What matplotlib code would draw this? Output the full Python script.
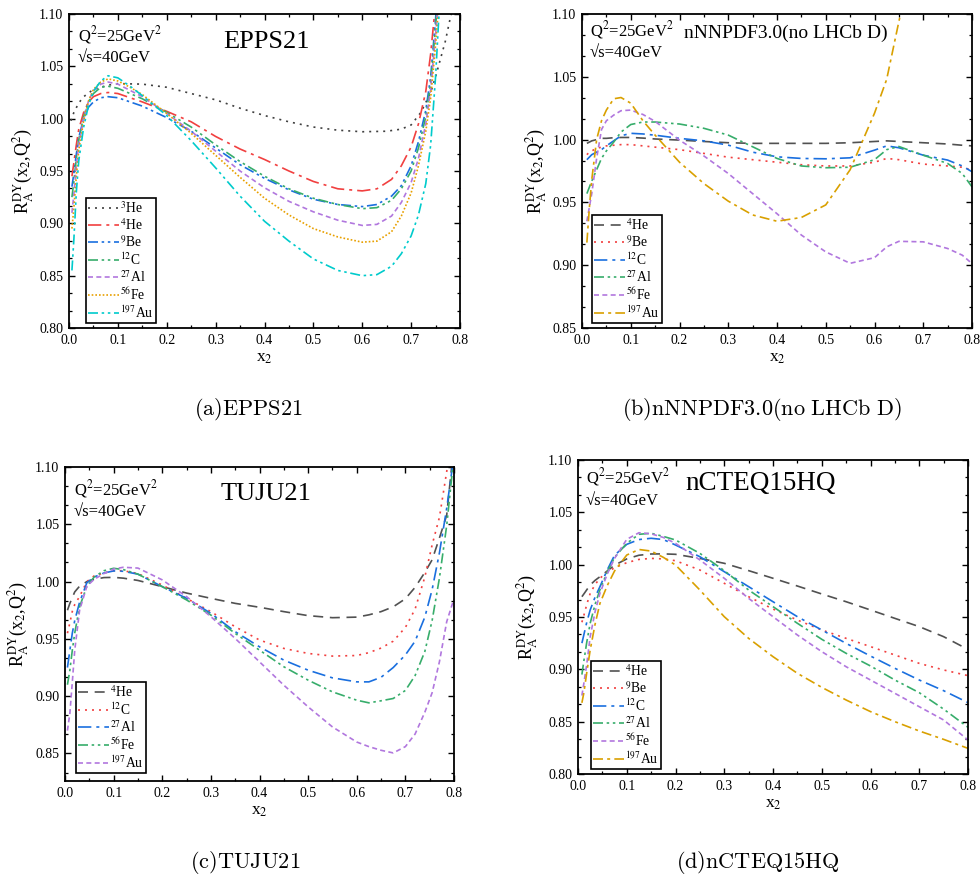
import matplotlib
matplotlib.use('Agg')
import matplotlib.pyplot as plt
from matplotlib.ticker import MultipleLocator, AutoMinorLocator, FormatStrFormatter

plt.rcParams['font.family'] = ['Liberation Serif', 'DejaVu Serif']
plt.rcParams['mathtext.fontset'] = 'stix'

# ---------------- data: panel (a) EPPS21 ----------------
xa_3he = [0.004, 0.01, 0.02, 0.03, 0.05, 0.08, 0.1, 0.15, 0.2, 0.25, 0.3, 0.35, 0.4, 0.45,
          0.5, 0.55, 0.6, 0.65, 0.68, 0.7, 0.72, 0.74, 0.75, 0.76, 0.77, 0.78, 0.79]
ya_3he = [0.998, 1.006, 1.015, 1.021, 1.028, 1.032, 1.0335, 1.033, 1.030, 1.024, 1.018, 1.010,
          1.003, 0.997, 0.992, 0.989, 0.9875, 0.988, 0.990, 0.994, 1.006, 1.025, 1.040, 1.057,
          1.074, 1.096, 1.115]
xa = [0.006, 0.01, 0.015, 0.02, 0.03, 0.04, 0.05, 0.065, 0.08, 0.1, 0.125, 0.15, 0.2, 0.25,
      0.3, 0.35, 0.4, 0.45, 0.5, 0.55, 0.6, 0.63, 0.66, 0.68, 0.7, 0.715, 0.73, 0.74, 0.75, 0.76]
ya_4he = [0.945, 0.958, 0.975, 0.990, 1.006, 1.016, 1.021, 1.024, 1.025, 1.024, 1.020, 1.016,
          1.007, 0.997, 0.983, 0.971, 0.961, 0.950, 0.940, 0.933, 0.931, 0.933, 0.942, 0.955,
          0.973, 0.995, 1.026, 1.062, 1.110, 1.170]
ya_9be = [0.935, 0.948, 0.966, 0.982, 1.000, 1.011, 1.016, 1.020, 1.021, 1.020, 1.016, 1.012,
          1.001, 0.988, 0.972, 0.956, 0.943, 0.932, 0.923, 0.918, 0.916, 0.918, 0.926, 0.936,
          0.955, 0.978, 1.008, 1.040, 1.095, 1.160]
ya_12c = [0.925, 0.940, 0.962, 0.980, 1.002, 1.016, 1.024, 1.030, 1.031, 1.029, 1.024, 1.019,
          1.006, 0.992, 0.975, 0.959, 0.945, 0.933, 0.924, 0.918, 0.914, 0.915, 0.922, 0.933,
          0.950, 0.972, 1.002, 1.034, 1.088, 1.150]
ya_27al = [0.910, 0.928, 0.955, 0.975, 1.000, 1.017, 1.027, 1.033, 1.035, 1.033, 1.027, 1.021,
           1.005, 0.988, 0.969, 0.950, 0.934, 0.921, 0.911, 0.903, 0.898, 0.899, 0.907, 0.920,
           0.939, 0.962, 0.995, 1.028, 1.080, 1.140]
ya_56fe = [0.895, 0.915, 0.945, 0.970, 0.998, 1.017, 1.028, 1.035, 1.038, 1.036, 1.030, 1.023,
           1.005, 0.986, 0.965, 0.944, 0.924, 0.908, 0.895, 0.887, 0.882, 0.883, 0.892, 0.907,
           0.929, 0.955, 0.988, 1.020, 1.070, 1.130]
ya_197au = [0.855, 0.885, 0.930, 0.960, 0.992, 1.013, 1.026, 1.036, 1.041, 1.039, 1.031, 1.022,
            1.003, 0.979, 0.953, 0.926, 0.902, 0.883, 0.866, 0.855, 0.850, 0.851, 0.859, 0.871,
            0.888, 0.908, 0.938, 0.975, 1.040, 1.125]

# ---------------- data: panel (b) nNNPDF3.0 ----------------
xb = [0.01, 0.015, 0.02, 0.03, 0.04, 0.05, 0.065, 0.08, 0.1, 0.125, 0.15, 0.2, 0.25, 0.3,
      0.35, 0.4, 0.45, 0.5, 0.55, 0.6, 0.625, 0.65, 0.7, 0.75, 0.78, 0.8]
yb_4he = [0.997, 0.998, 0.999, 1.000, 1.001, 1.001, 1.0015, 1.0017, 1.0017, 1.0012, 1.0005,
          0.9996, 0.9985, 0.9975, 0.997, 0.997, 0.997, 0.997, 0.9975, 0.9985, 0.999, 0.9985,
          0.9975, 0.9965, 0.9955, 0.995]
yb_9be = [0.988, 0.990, 0.991, 0.993, 0.994, 0.995, 0.9955, 0.996, 0.996, 0.995, 0.994, 0.992,
          0.989, 0.986, 0.984, 0.982, 0.980, 0.979, 0.979, 0.982, 0.985, 0.984, 0.9805, 0.979,
          0.978, 0.9757]
yb_12c = [0.984, 0.986, 0.988, 0.990, 0.992, 0.995, 0.999, 1.003, 1.005, 1.0045, 1.0035, 1.001,
          0.999, 0.9956, 0.990, 0.9863, 0.985, 0.9847, 0.9855, 0.9916, 0.995, 0.9935, 0.9876,
          0.9837, 0.979, 0.9744]
yb_27al = [0.957, 0.962, 0.967, 0.976, 0.985, 0.991, 0.998, 1.006, 1.012, 1.014, 1.014, 1.0124,
           1.009, 1.0036, 0.9943, 0.985, 0.979, 0.9776, 0.978, 0.984, 0.992, 0.9945, 0.9876,
           0.981, 0.973, 0.9624]
yb_56fe = [0.935, 0.946, 0.957, 0.985, 1.008, 1.015, 1.0195, 1.023, 1.0235, 1.020, 1.0145,
           0.9996, 0.987, 0.973, 0.957, 0.941, 0.924, 0.9106, 0.9015, 0.906, 0.9146, 0.919,
           0.9186, 0.9133, 0.908, 0.9013]
yb_197au = [0.918, 0.945, 0.968, 1.000, 1.015, 1.0235, 1.0325, 1.0335, 1.029, 1.015, 1.0035,
            0.982, 0.965, 0.951, 0.940, 0.935, 0.938, 0.948, 0.976, 1.021, 1.048, 1.094,
            1.180, 1.250, 1.300, 1.330]

# ---------------- data: panel (c) TUJU21 ----------------
xc = [0.005, 0.01, 0.015, 0.02, 0.03, 0.045, 0.06, 0.08, 0.1, 0.12, 0.15, 0.2, 0.25, 0.3,
      0.35, 0.4, 0.45, 0.5, 0.55, 0.6, 0.625, 0.65, 0.675, 0.7, 0.72, 0.74, 0.755, 0.77,
      0.785, 0.8]
yc_4he = [0.975, 0.981, 0.986, 0.991, 0.996, 1.000, 1.002, 1.0035, 1.0037, 1.003, 1.001,
          0.9956, 0.990, 0.9854, 0.981, 0.9776, 0.9738, 0.9703, 0.9685, 0.969, 0.971, 0.9738,
          0.978, 0.985, 0.995, 1.008, 1.019, 1.038, 1.058, 1.120]
yc_12c = [0.955, 0.964, 0.974, 0.980, 0.987, 1.000, 1.005, 1.0075, 1.0095, 1.0095, 1.007,
          0.997, 0.9854, 0.9738, 0.9606, 0.949, 0.9417, 0.9373, 0.935, 0.9355, 0.938, 0.942,
          0.948, 0.960, 0.976, 1.004, 1.032, 1.056, 1.096, 1.140]
yc_27al = [0.925, 0.940, 0.955, 0.966, 0.982, 0.999, 1.004, 1.0075, 1.0093, 1.009, 1.0065,
           0.9956, 0.9854, 0.9723, 0.9563, 0.9431, 0.9315, 0.9227, 0.916, 0.9125, 0.9125,
           0.9165, 0.925, 0.936, 0.948, 0.969, 0.993, 1.025, 1.064, 1.110]
yc_56fe = [0.910, 0.9227, 0.940, 0.955, 0.978, 0.996, 1.004, 1.0095, 1.0116, 1.0105, 1.0065,
           0.9956, 0.984, 0.9708, 0.9548, 0.9402, 0.9257, 0.914, 0.9038, 0.8965, 0.8942, 0.896,
           0.898, 0.905, 0.918, 0.939, 0.966, 1.003, 1.049, 1.110]
yc_197au = [0.870, 0.885, 0.912, 0.940, 0.975, 0.996, 1.002, 1.007, 1.011, 1.0125, 1.0118,
            1.0015, 0.9869, 0.9694, 0.9504, 0.930, 0.9096, 0.8907, 0.8732, 0.860, 0.856,
            0.8528, 0.8505, 0.856, 0.867, 0.886, 0.903, 0.930, 0.965, 0.985]

# ---------------- data: panel (d) nCTEQ15HQ ----------------
xd = [0.008, 0.012, 0.018, 0.025, 0.035, 0.045, 0.06, 0.075, 0.1, 0.125, 0.15, 0.175, 0.2,
      0.25, 0.3, 0.35, 0.4, 0.45, 0.5, 0.55, 0.6, 0.65, 0.7, 0.75, 0.8]
yd_4he = [0.9694, 0.972, 0.976, 0.9806, 0.985, 0.9885, 0.994, 0.9995, 1.0055, 1.009, 1.0102,
          1.0103, 1.0099, 1.006, 1.0013, 0.9943, 0.987, 0.9796, 0.972, 0.9646, 0.9567, 0.9487,
          0.9408, 0.9312, 0.919]
yd_9be = [0.945, 0.9515, 0.962, 0.9726, 0.981, 0.987, 0.993, 0.997, 1.0019, 1.005, 1.006,
          1.0055, 1.0038, 0.9949, 0.9822, 0.9694, 0.9576, 0.9471, 0.9376, 0.9296, 0.9217,
          0.9137, 0.9057, 0.8994, 0.894]
yd_12c = [0.925, 0.933, 0.945, 0.9567, 0.969, 0.979, 0.995, 1.009, 1.0194, 1.024, 1.0252,
          1.024, 1.0188, 1.0076, 0.9933, 0.979, 0.9646, 0.9503, 0.9376, 0.9248, 0.9127, 0.901,
          0.8898, 0.8796, 0.8682]
yd_27al = [0.895, 0.908, 0.926, 0.944, 0.962, 0.976, 0.993, 1.007, 1.0204, 1.029, 1.030,
           1.027, 1.0236, 1.0108, 0.9943, 0.9758, 0.9599, 0.944, 0.9287, 0.9153, 0.9032,
           0.8898, 0.8777, 0.862, 0.8446]
yd_56fe = [0.875, 0.8866, 0.905, 0.9312, 0.955, 0.9726, 0.991, 1.006, 1.0242, 1.0305, 1.0295,
           1.026, 1.0204, 1.0045, 0.987, 0.9678, 0.9503, 0.9328, 0.9169, 0.9025, 0.8898,
           0.8771, 0.8643, 0.8516, 0.8325]
yd_197au = [0.868, 0.8775, 0.897, 0.9185, 0.943, 0.963, 0.980, 0.994, 1.0092, 1.0145, 1.013,
            1.007, 0.9997, 0.9758, 0.9503, 0.9296, 0.9121, 0.8962, 0.8828, 0.8707, 0.8596,
            0.850, 0.8411, 0.8331, 0.8245]

# ---------------- styles ----------------
GRAY = '#515151'
RED = '#F14040'
BLUE = '#1A6FDF'
GREEN = '#37AD6B'
PURPLE = '#B177DE'
GOLD = '#D9A000'
ORANGE = '#E8A000'
CYAN = '#00CBCC'

DOT_SPARSE = (0, (1.2, 3.0))
DOT_DENSE = (0, (1.0, 1.2))
DASH_LONG = (0, (6, 4))
DASH_SHORT = (0, (3, 2))
DASH_DOT = (0, (8, 3, 1.8, 3))
DASH_DOT2 = (0, (6, 2.2, 1.5, 2.2, 1.5, 2.2))
DASH_DOT_G = (0, (6, 2.5, 1.8, 2.5))

LBL = {'3he': r'$^{3}$He', '4he': r'$^{4}$He', '9be': r'$^{9}$Be', '12c': r'$^{12}$C',
       '27al': r'$^{27}$Al', '56fe': r'$^{56}$Fe', '197au': r'$^{197}$Au'}

LW = 1.2

fig = plt.figure(figsize=(9.8, 8.76), dpi=100)


def make_axes(l, t, r, b):
    return fig.add_axes([l / 980, 1 - b / 876, (r - l) / 980, (b - t) / 876])


def style_axes(ax, ylo, yhi, ylabx):
    ax.set_xlim(0, 0.8)
    ax.set_ylim(ylo, yhi)
    ax.xaxis.set_major_locator(MultipleLocator(0.1))
    ax.xaxis.set_minor_locator(MultipleLocator(0.05))
    ax.yaxis.set_major_locator(MultipleLocator(0.05))
    ax.yaxis.set_minor_locator(AutoMinorLocator(3))
    ax.xaxis.set_major_formatter(FormatStrFormatter('%.1f'))
    ax.yaxis.set_major_formatter(FormatStrFormatter('%.2f'))
    ax.tick_params(which='both', direction='in', top=True, right=True, labelsize=10, pad=4)
    ax.tick_params(which='major', length=4.5, width=1.0)
    ax.tick_params(which='minor', length=2.5, width=0.9)
    for s in ax.spines.values():
        s.set_linewidth(1.3)
    ax.set_xlabel(r'x$_2$', fontsize=12.5)
    ax.xaxis.set_label_coords(0.5, -0.07)
    ax.set_ylabel(r'R$_\mathrm{A}^\mathrm{DY}$(x$_2$,Q$^2$)', fontsize=13)
    ax.yaxis.set_label_coords(ylabx, 0.5)


def annotate(ax, title, tx, ty, tsize, qx, qy, sy):
    ax.text(tx, ty, title, transform=ax.transAxes, ha='center', va='center', fontsize=tsize)
    ax.text(qx, qy, r'Q$^2$=25GeV$^2$', transform=ax.transAxes, ha='left', va='center',
            fontsize=12)
    ax.text(qx, sy, '√s=40GeV', transform=ax.transAxes, ha='left', va='center', fontsize=12)


def add_legend(ax, x0, y0):
    leg = ax.legend(loc='lower left', bbox_to_anchor=(x0, y0), borderaxespad=0, frameon=True,
                    fancybox=False, edgecolor='black', framealpha=1, fontsize=9.8,
                    handlelength=2.3, handletextpad=0.05, labelspacing=0.1, borderpad=0.15)
    leg.get_frame().set_linewidth(1.2)


def caption(x, y, s):
    fig.text(x / 980, 1 - y / 876, s, math_fontfamily='cm', ha='center', va='center',
             fontsize=16)


# panel (a)
ax = make_axes(69, 14, 460, 328)
ax.plot(xa_3he, ya_3he, color='#404040', ls=DOT_SPARSE, lw=LW, label=LBL['3he'])
ax.plot(xa, ya_4he, color=RED, ls=DASH_DOT, lw=LW, label=LBL['4he'])
ax.plot(xa, ya_9be, color=BLUE, ls=DASH_DOT2, lw=LW, label=LBL['9be'])
ax.plot(xa, ya_12c, color=GREEN, ls=DASH_DOT2, lw=LW, label=LBL['12c'])
ax.plot(xa, ya_27al, color=PURPLE, ls=DASH_SHORT, lw=LW, label=LBL['27al'])
ax.plot(xa, ya_56fe, color=ORANGE, ls=DOT_DENSE, lw=LW, label=LBL['56fe'])
ax.plot(xa, ya_197au, color=CYAN, ls=DASH_DOT2, lw=LW, label=LBL['197au'])
style_axes(ax, 0.80, 1.10, -0.085)
annotate(ax, 'EPPS21', 0.506, 0.911, 19, 0.022, 0.933, 0.86)
add_legend(ax, 0.043, 0.016)
caption(248, 410, r'$\mathrm{(a)EPPS21}$')

# panel (b)
ax = make_axes(582, 14, 972, 328)
ax.plot(xb, yb_4he, color=GRAY, ls=DASH_LONG, lw=LW, label=LBL['4he'])
ax.plot(xb, yb_9be, color=RED, ls=DOT_SPARSE, lw=LW, label=LBL['9be'])
ax.plot(xb, yb_12c, color=BLUE, ls=DASH_DOT, lw=LW, label=LBL['12c'])
ax.plot(xb, yb_27al, color=GREEN, ls=DASH_DOT2, lw=LW, label=LBL['27al'])
ax.plot(xb, yb_56fe, color=PURPLE, ls=DASH_SHORT, lw=LW, label=LBL['56fe'])
ax.plot(xb, yb_197au, color=GOLD, ls=DASH_DOT_G, lw=LW, label=LBL['197au'])
style_axes(ax, 0.85, 1.10, -0.085)
annotate(ax, 'nNNPDF3.0(no LHCb D)', 0.523, 0.939, 14, 0.02, 0.949, 0.876)
add_legend(ax, 0.026, 0.016)
caption(762, 410, r'$\mathrm{(b)nNNPDF3.0(no\ LHCb\ D)}$')

# panel (c)
ax = make_axes(65, 467, 454, 781)
ax.plot(xc, yc_4he, color=GRAY, ls=DASH_LONG, lw=LW, label=LBL['4he'])
ax.plot(xc, yc_12c, color=RED, ls=DOT_SPARSE, lw=LW, label=LBL['12c'])
ax.plot(xc, yc_27al, color=BLUE, ls=DASH_DOT, lw=LW, label=LBL['27al'])
ax.plot(xc, yc_56fe, color=GREEN, ls=DASH_DOT2, lw=LW, label=LBL['56fe'])
ax.plot(xc, yc_197au, color=PURPLE, ls=DASH_SHORT, lw=LW, label=LBL['197au'])
style_axes(ax, 0.826, 1.10, -0.087)
annotate(ax, 'TUJU21', 0.517, 0.914, 19, 0.023, 0.93, 0.857)
add_legend(ax, 0.028, 0.026)
caption(245, 863, r'$\mathrm{(c)TUJU21}$')

# panel (d)
ax = make_axes(578, 460, 968, 774)
ax.plot(xd, yd_4he, color=GRAY, ls=DASH_LONG, lw=LW, label=LBL['4he'])
ax.plot(xd, yd_9be, color=RED, ls=DOT_SPARSE, lw=LW, label=LBL['9be'])
ax.plot(xd, yd_12c, color=BLUE, ls=DASH_DOT, lw=LW, label=LBL['12c'])
ax.plot(xd, yd_27al, color=GREEN, ls=DASH_DOT2, lw=LW, label=LBL['27al'])
ax.plot(xd, yd_56fe, color=PURPLE, ls=DASH_SHORT, lw=LW, label=LBL['56fe'])
ax.plot(xd, yd_197au, color=GOLD, ls=DASH_DOT_G, lw=LW, label=LBL['197au'])
style_axes(ax, 0.80, 1.10, -0.097)
annotate(ax, 'nCTEQ15HQ', 0.467, 0.924, 19.5, 0.02, 0.946, 0.869)
add_legend(ax, 0.033, 0.016)
caption(758, 863, r'$\mathrm{(d)nCTEQ15HQ}$')

fig.savefig('out.png', dpi=100)
